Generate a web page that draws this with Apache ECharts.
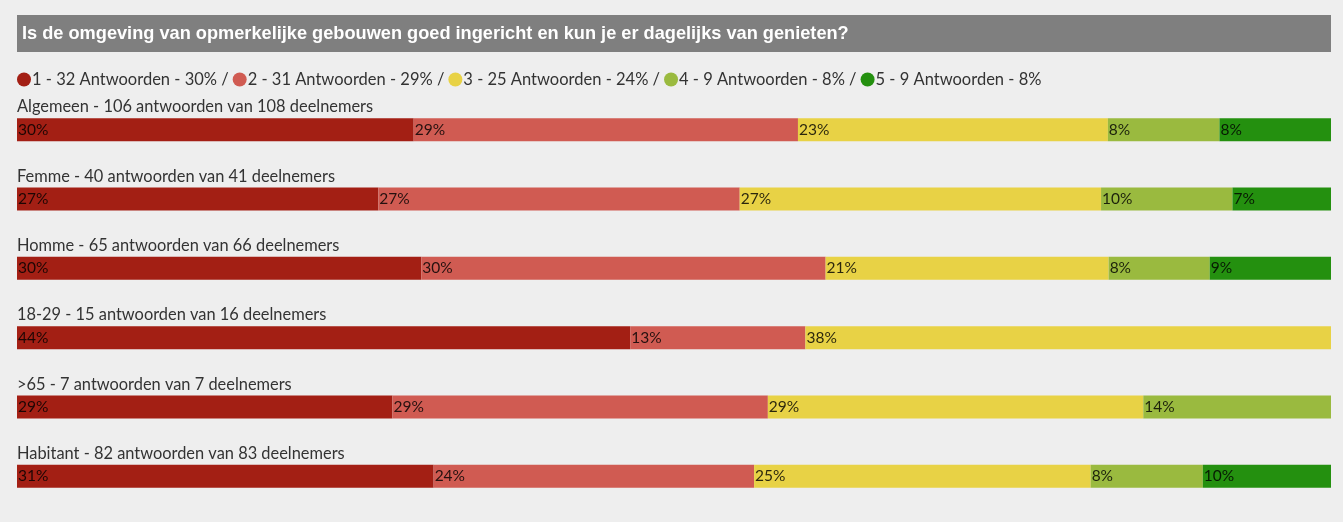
<!DOCTYPE html>
<html>
<head>
<meta charset="utf-8">
<script src="https://cdn.jsdelivr.net/npm/echarts@6/dist/echarts.min.js"></script>
<style>
  html, body { margin: 0; padding: 0; background: #eeeeee; }
  #chart { width: 1343px; height: 522px; }
</style>
</head>
<body>
<div id="chart"></div>
<script>
// groups shown from top to bottom
var groups = ['Algemeen', 'Femme', 'Homme', '18-29', '>65', 'Habitant'];
var answers = [106, 40, 65, 15, 7, 82];
var participants = [108, 41, 66, 16, 7, 83];

// number of answers per score (1..5) for each group
var score1 = [32, 11, 20, 7, 2, 26];
var score2 = [31, 11, 20, 2, 2, 20];
var score3 = [25, 11, 14, 6, 2, 21];
var score4 = [9, 4, 5, 0, 1, 7];
var score5 = [9, 3, 6, 0, 0, 8];

var legendNames = ['1', '2', '3', '4', '5'];
var legendCounts = [32, 31, 25, 9, 9];
var legendPct = [30, 29, 24, 8, 8];

var colors = ['#a31f14', '#d05b52', '#e8d245', '#9aba3f', '#24900f'];
var scores = [score1, score2, score3, score4, score5];

var categories = groups.map(function (g, i) {
  return g + ' - ' + answers[i] + ' antwoorden van ' + participants[i] + ' deelnemers';
});

var series = scores.map(function (counts, s) {
  return {
    name: legendNames[s],
    type: 'bar',
    stack: 'total',
    barWidth: 23,
    itemStyle: { color: colors[s] },
    emphasis: { disabled: true },
    label: {
      show: true,
      position: 'insideLeft',
      distance: 1,
      color: 'rgba(0,0,0,0.82)',
      fontFamily: 'Lato',
      fontSize: 15.5,
      formatter: function (p) {
        var c = counts[p.dataIndex];
        if (!c) return '';
        return Math.round(c / participants[p.dataIndex] * 100) + '%';
      }
    },
    data: counts.map(function (c, i) { return c / answers[i] * 100; })
  };
});

var chart = echarts.init(document.getElementById('chart'));
chart.setOption({
  backgroundColor: '#eeeeee',
  animation: false,
  title: {
    text: 'Is de omgeving van opmerkelijke gebouwen goed ingericht en kun je er dagelijks van genieten?',
    left: 17,
    top: 15,
    padding: [9, 5, 9, 5],
    backgroundColor: '#7f7f7f',
    textStyle: {
      color: '#ffffff',
      fontFamily: 'Liberation Sans',
      fontWeight: 'bold',
      fontSize: 18.2,
      lineHeight: 19,
      width: 1304
    }
  },
  legend: {
    left: 12,
    top: 66,
    icon: 'circle',
    itemWidth: 14,
    itemHeight: 14,
    itemGap: 4,
    selectedMode: false,
    textStyle: { fontFamily: 'Lato', fontSize: 16.5, color: '#333333', padding: [0, 0, 0, -4] },
    formatter: function (name) {
      var i = legendNames.indexOf(name);
      var t = name + ' - ' + legendCounts[i] + ' Antwoorden - ' + legendPct[i] + '%';
      return i < legendNames.length - 1 ? t + ' /' : t;
    },
    data: legendNames
  },
  grid: { left: 17, right: 12, top: 95, height: 416, containLabel: false },
  xAxis: {
    type: 'value',
    min: 0,
    max: 100,
    show: false
  },
  yAxis: {
    type: 'category',
    inverse: true,
    data: categories,
    axisLine: { show: false },
    axisTick: { show: false },
    axisLabel: {
      show: true,
      interval: 0,
      inside: true,
      margin: 0,
      formatter: '{g|{value}}',
      rich: {
        g: {
          color: '#333333',
          fontFamily: 'Lato',
          fontSize: 16.4,
          lineHeight: 16,
          padding: [0, 0, 45, 0]
        }
      }
    }
  },
  series: series
});
window.addEventListener('resize', function () {
  chart.resize();
});
</script>
</body>
</html>
